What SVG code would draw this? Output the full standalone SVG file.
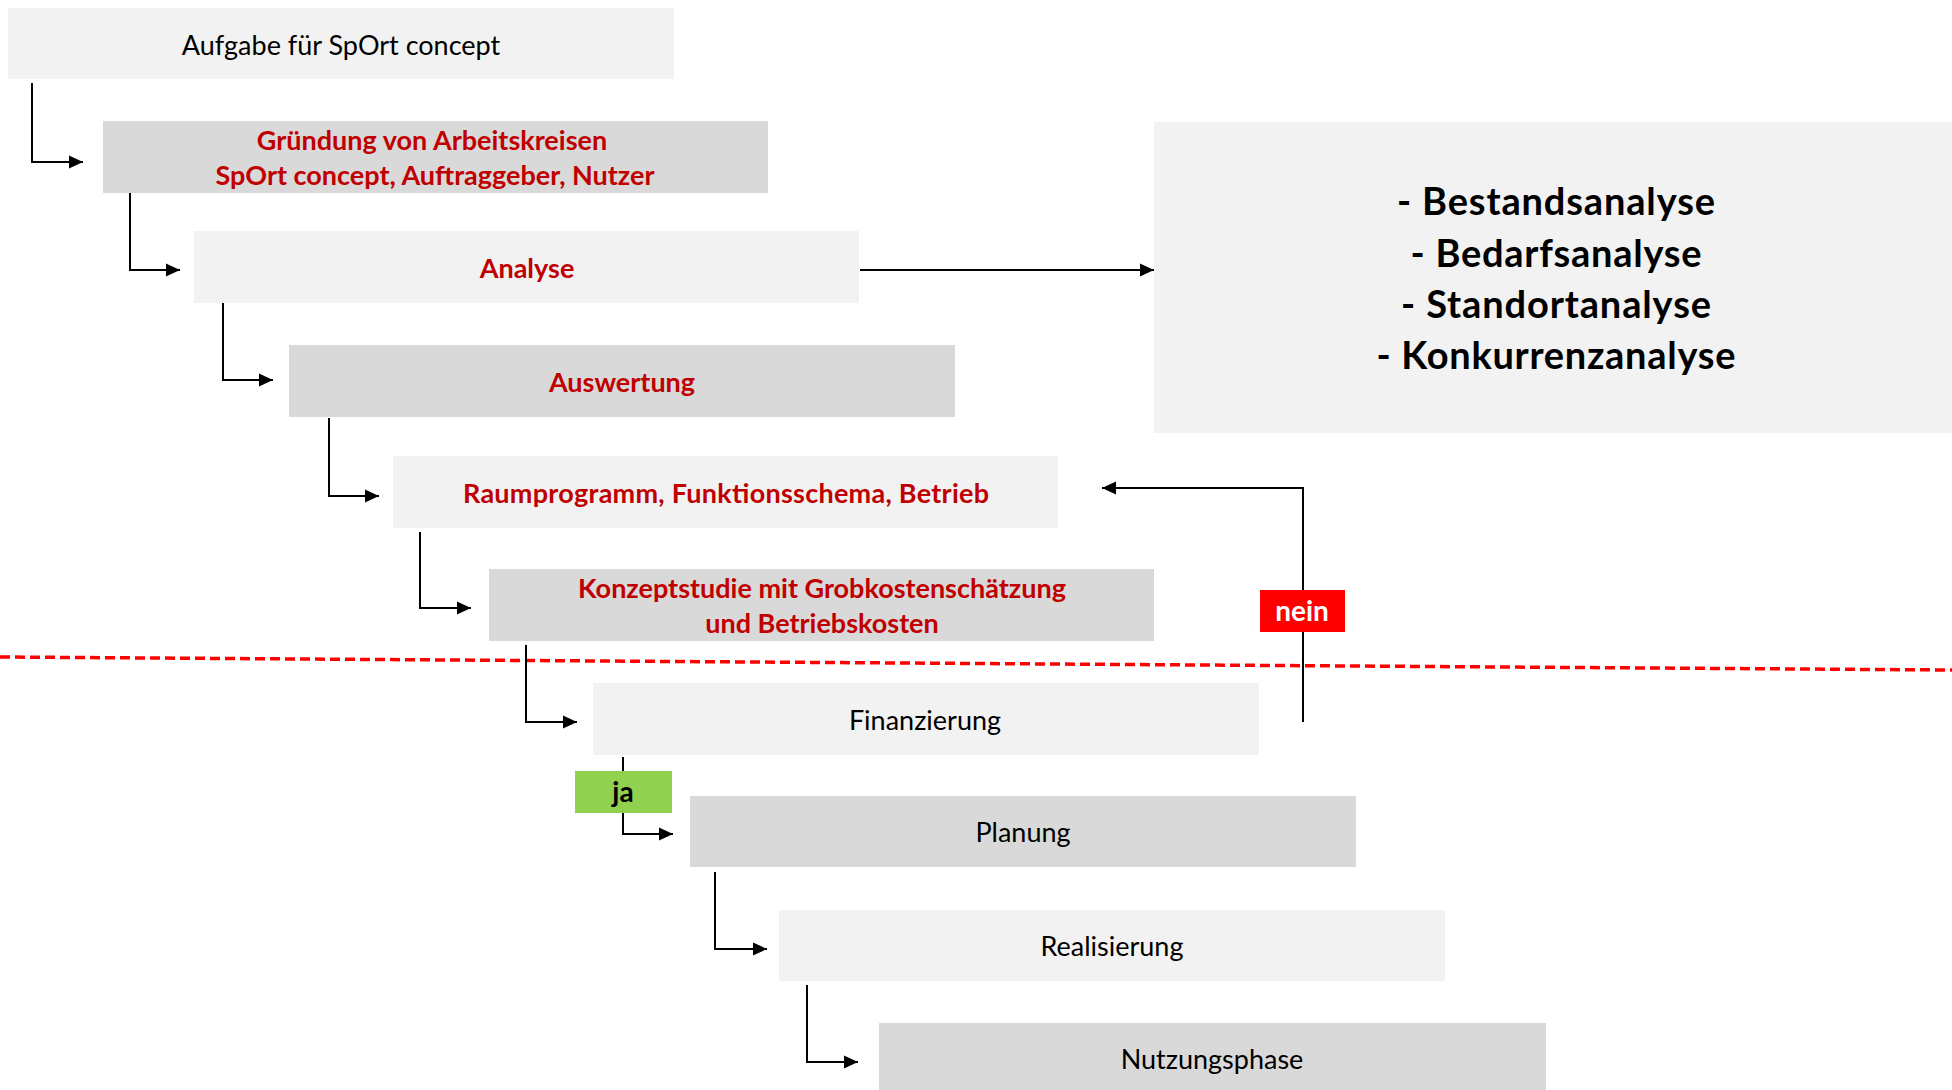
<svg xmlns="http://www.w3.org/2000/svg" width="1952" height="1090" viewBox="0 0 1952 1090">
  <style>
    .light { fill: #F2F2F2; }
    .dark { fill: #D9D9D9; }
    text { font-family: Lato, "Open Sans", "Liberation Sans", sans-serif; text-anchor: middle; }
    .lbl { font-size: 27px; fill: #000000; }
    .red { font-size: 27px; font-weight: bold; fill: #C00000; }
    .big { font-size: 38px; font-weight: bold; fill: #000000; }
    .tag { font-size: 28px; font-weight: bold; }
    .conn { fill: none; stroke: #000000; stroke-width: 2; marker-end: url(#arrow); }
  </style>
  <defs>
    <marker id="arrow" markerUnits="userSpaceOnUse" markerWidth="16" markerHeight="16" refX="14" refY="8" orient="auto">
      <path d="M0,1.5 L14,8 L0,14.5 z" fill="#000000"/>
    </marker>
  </defs>

  <rect width="1952" height="1090" fill="#FFFFFF"/>

  <!-- process steps -->
  <g id="aufgabe">
    <rect class="light" x="8" y="8" width="666" height="71"/>
    <text class="lbl" x="341" y="55">Aufgabe für SpOrt concept</text>
  </g>
  <g id="gruendung">
    <rect class="dark" x="103" y="121" width="665" height="72"/>
    <text class="red" x="432" y="150">Gründung von Arbeitskreisen</text>
    <text class="red" x="435" y="185">SpOrt concept, Auftraggeber, Nutzer</text>
  </g>
  <g id="analyse">
    <rect class="light" x="194" y="231" width="665" height="72"/>
    <text class="red" x="527" y="278">Analyse</text>
  </g>
  <g id="auswertung">
    <rect class="dark" x="289" y="345" width="666" height="72"/>
    <text class="red" x="622" y="392">Auswertung</text>
  </g>
  <g id="raumprogramm">
    <rect class="light" x="393" y="456" width="665" height="72"/>
    <text class="red" x="726" y="503" textLength="526">Raumprogramm, Funktionsschema, Betrieb</text>
  </g>
  <g id="konzeptstudie">
    <rect class="dark" x="489" y="569" width="665" height="72"/>
    <text class="red" x="822" y="598">Konzeptstudie mit Grobkostenschätzung</text>
    <text class="red" x="822" y="633">und Betriebskosten</text>
  </g>
  <g id="finanzierung">
    <rect class="light" x="593" y="683" width="666" height="72"/>
    <text class="lbl" x="925" y="730">Finanzierung</text>
  </g>
  <g id="planung">
    <rect class="dark" x="690" y="796" width="666" height="71"/>
    <text class="lbl" x="1023" y="842">Planung</text>
  </g>
  <g id="realisierung">
    <rect class="light" x="779" y="910" width="666" height="71"/>
    <text class="lbl" x="1112" y="956">Realisierung</text>
  </g>
  <g id="nutzungsphase">
    <rect class="dark" x="879" y="1023" width="667" height="72"/>
    <text class="lbl" x="1212" y="1069">Nutzungsphase</text>
  </g>

  <!-- analysis details -->
  <g id="analysen">
    <rect class="light" x="1154" y="122" width="800" height="311"/>
    <text class="big" x="1556" y="215" textLength="318">- Bestandsanalyse</text>
    <text class="big" x="1556" y="267" textLength="291">- Bedarfsanalyse</text>
    <text class="big" x="1556" y="318" textLength="310">- Standortanalyse</text>
    <text class="big" x="1556" y="369" textLength="359">- Konkurrenzanalyse</text>
  </g>

  <!-- decision boundary -->
  <line id="grenze" x1="0" y1="657" x2="1952" y2="670" stroke="#FF0000" stroke-width="3.5" stroke-dasharray="10,5"/>

  <!-- connectors -->
  <g id="connectors">
    <path class="conn" d="M32,83 V162 H83"/>
    <path class="conn" d="M130,193 V270 H180"/>
    <path class="conn" d="M223,303 V380 H273"/>
    <path class="conn" d="M329,418 V496 H379"/>
    <path class="conn" d="M420,532 V608 H471"/>
    <path class="conn" d="M526,645 V722 H577"/>
    <path class="conn" d="M623,757 V834 H673"/>
    <path class="conn" d="M715,872 V949 H767"/>
    <path class="conn" d="M807,985 V1062 H858"/>
    <path class="conn" d="M860,270 H1154"/>
    <path class="conn" d="M1303,722 V488 H1102"/>
  </g>

  <!-- decision labels -->
  <g id="nein">
    <rect x="1260" y="590" width="85" height="42" fill="#FF0000"/>
    <text class="tag" x="1302" y="621" fill="#FFFFFF">nein</text>
  </g>
  <g id="ja">
    <rect x="575" y="771" width="97" height="42" fill="#92D050"/>
    <text class="tag" x="623" y="802" fill="#000000">ja</text>
  </g>
</svg>
